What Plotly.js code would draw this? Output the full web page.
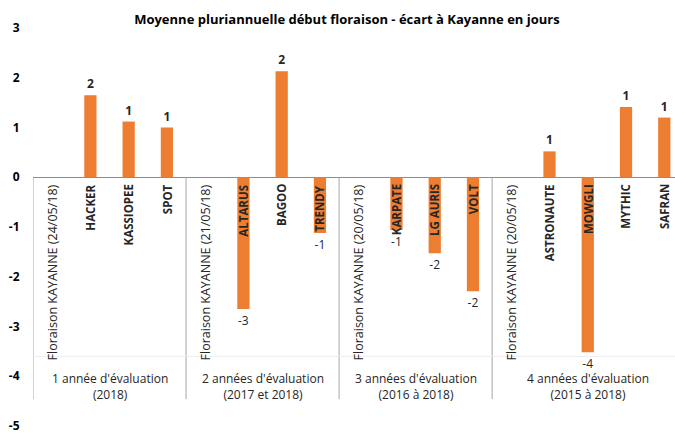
<!DOCTYPE html>
<html>
<head>
<meta charset="utf-8">
<script src="https://cdn.plot.ly/plotly-3.0.1.min.js"></script>
<style>
  html, body { margin: 0; padding: 0; background: #fff; }
  #chart { width: 675px; height: 434px; }
</style>
</head>
<body>
<div id="chart"></div>
<script>
/* ─── Début floraison : écart à Kayanne ─── */

const categories = [
    'Floraison KAYANNE (24/05/18)', 'HACKER', 'KASSIOPEE', 'SPOT',
    'Floraison KAYANNE (21/05/18)', 'ALTARUS', 'BAGOO', 'TRENDY',
    'Floraison KAYANNE (20/05/18)', 'KARPATE', 'LG AURIS', 'VOLT',
    'Floraison KAYANNE (20/05/18)', 'ASTRONAUTE', 'MOWGLI', 'MYTHIC', 'SAFRAN',
];
const values = [
    0, 1.65, 1.12, 1.0,
    0, -2.65, 2.13, -1.12,
    0, -1.06, -1.53, -2.29,
    0, 0.52, -3.52, 1.41, 1.2,
];
const groups = [
    "1 année d'évaluation<br>(2018)",
    "2 années d'évaluation<br>(2017 et 2018)",
    "3 années d'évaluation<br>(2016 à 2018)",
    "4 années d'évaluation<br>(2015 à 2018)",
];
const groupSizes = [4, 4, 4, 5];
const yTicks = [3, 2, 1, 0, -1, -2, -3, -4, -5];

const FONT = '"Open Sans", "Liberation Sans", sans-serif';
const ORANGE = '#ED7D31';
const SEP = '#a6a6a6';

const xs = categories.map((c, i) => i);
const labels = values.map(v => {
    if (v === 0) return '';
    const r = Math.round(v);
    return v > 0 ? '<b>' + r + '</b>' : String(r);
});

const trace = {
    x: xs,
    y: values,
    type: 'bar',
    width: 0.32,
    marker: { color: ORANGE },
    text: labels,
    textposition: 'outside',
    textfont: { family: FONT, size: 12, color: '#262626' },
    cliponaxis: false,
    hoverinfo: 'skip',
};

// category labels (rotated) hanging below the zero line
const annotations = categories.map((c, i) => {
    const kay = c.startsWith('Floraison');
    return {
        x: i, y: 0, xref: 'x', yref: 'y',
        text: kay ? c : '<b>' + c + '</b>',
        textangle: -90,
        showarrow: false,
        xanchor: 'center', yanchor: 'top',
        yshift: -5,
        font: { family: FONT, size: kay ? 12.5 : 11.5, color: '#262626' },
    };
});

// group labels + separators
const shapes = [];
let start = -0.5;
groups.forEach((g, k) => {
    const end = start + groupSizes[k];
    annotations.push({
        x: (start + end) / 2, y: -4.2, xref: 'x', yref: 'y',
        text: g, showarrow: false, align: 'center',
        xanchor: 'center', yanchor: 'middle',
        font: { family: FONT, size: 12, color: '#262626' },
    });
    shapes.push({
        type: 'line', xref: 'x', yref: 'y',
        x0: start, x1: start, y0: 0, y1: -4.46,
        line: { color: SEP, width: 1 },
    });
    start = end;
});
shapes.push({
    type: 'line', xref: 'x', yref: 'y',
    x0: start, x1: start, y0: 0, y1: -4.46,
    line: { color: SEP, width: 1 },
});
shapes.push({
    type: 'line', xref: 'x', yref: 'y',
    x0: -0.5, x1: start, y0: -3.6, y1: -3.6,
    line: { color: '#ededed', width: 1 },
});

const layout = {
    width: 675,
    height: 434,
    margin: { l: 33, r: 0, t: 28, b: 8 },
    paper_bgcolor: '#fff',
    plot_bgcolor: '#fff',
    showlegend: false,
    title: {
        text: '<b>Moyenne pluriannuelle début floraison - écart à Kayanne en jours</b>',
        font: { family: FONT, size: 13, color: '#000' },
        x: 0.514, xanchor: 'center',
        y: 0.955, yanchor: 'middle',
    },
    xaxis: {
        range: [-0.5, 16.28],
        showticklabels: false,
        showgrid: false,
        zeroline: false,
        showline: false,
        ticks: '',
    },
    yaxis: {
        range: [-5, 3],
        tickvals: yTicks,
        ticktext: yTicks.map(v => '<b>' + v + '</b>'),
        ticks: 'outside',
        ticklen: 10,
        tickcolor: 'rgba(0,0,0,0)',
        tickfont: { family: FONT, size: 12, color: '#000' },
        ticklabeloverflow: 'allow',
        showgrid: false,
        showline: false,
        zeroline: true,
        zerolinecolor: '#8c8c8c',
        zerolinewidth: 1,
    },
    annotations: annotations,
    shapes: shapes,
};

Plotly.newPlot('chart', [trace], layout, { displayModeBar: false, staticPlot: true });
</script>
</body>
</html>
